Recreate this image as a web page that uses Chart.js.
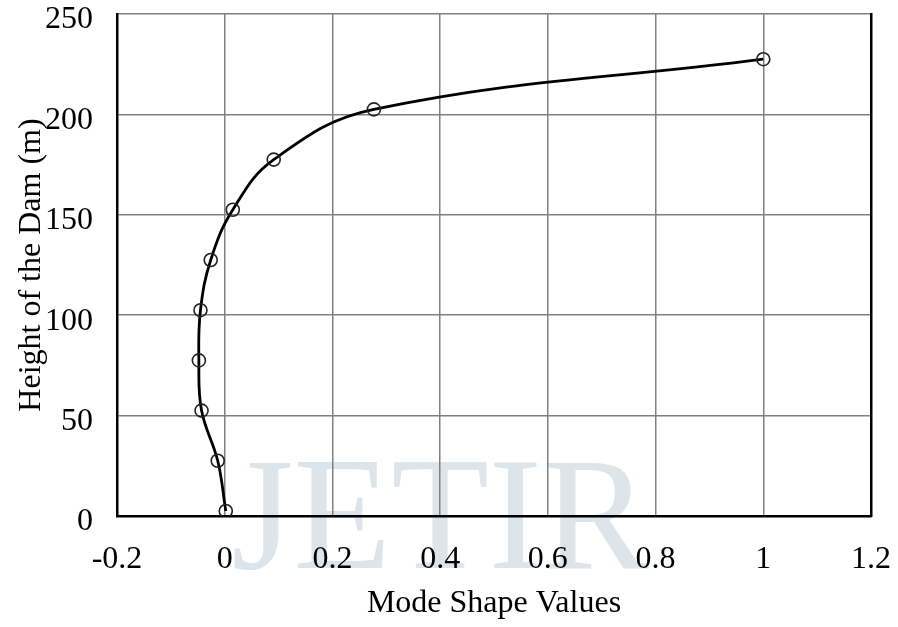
<!DOCTYPE html>
<html>
<head>
<meta charset="utf-8">
<script src="https://cdn.jsdelivr.net/npm/chart.js@4"></script>
<style>
  html, body { margin: 0; padding: 0; background: #fff; }
  #wrap { width: 898px; height: 627px; }
</style>
</head>
<body>
<div id="wrap"><canvas id="mode-chart"></canvas></div>
<script>
// values
var heights = [2.5, 27.5, 52.5, 77.5, 102.5, 127.5, 152.5, 177.5, 202.5, 227.5];
var modeShape = [0.002, -0.013, -0.043, -0.048, -0.045, -0.026, 0.015, 0.091, 0.277, 1.0];
var xTicks = [-0.2, 0, 0.2, 0.4, 0.6, 0.8, 1, 1.2];
var yTicks = [0, 50, 100, 150, 200, 250];

var points = [];
for (var i = 0; i < heights.length; i++) {
    points.push({ x: modeShape[i], y: heights[i] });
}

var serif = '"Liberation Serif", "Times New Roman", serif';

// faint watermark behind the plot
var watermark = {
    id: 'watermark',
    beforeDraw: function (chart) {
        var c = chart.ctx;
        c.save();
        c.fillStyle = '#dde4ea';
        c.font = '160px ' + serif;
        c.textAlign = 'center';
        c.textBaseline = 'alphabetic';
        c.fillText('JETIR', 440, 568);
        c.restore();
    }
};

var ctx = document.getElementById('mode-chart').getContext('2d');
var myChart = new Chart(ctx, {
    type: 'scatter',
    data: {
        datasets: [{
            label: 'Mode shape',
            data: points,
            showLine: true,
            tension: 0.4,
            borderColor: '#000',
            borderWidth: 2.8,
            pointRadius: 6.5,
            pointHoverRadius: 6.5,
            pointStyle: 'circle',
            pointBackgroundColor: 'rgba(0,0,0,0)',
            pointBorderColor: '#222',
            pointBorderWidth: 1.6
        }]
    },
    plugins: [watermark],
    options: {
        responsive: true,
        maintainAspectRatio: false,
        animation: false,
        layout: { padding: 0 },
        plugins: {
            legend: { display: false },
            tooltip: { enabled: false }
        },
        scales: {
            x: {
                type: 'linear',
                min: -0.2,
                max: 1.2,
                afterBuildTicks: function (scale) {
                    scale.ticks = xTicks.map(function (v) { return { value: v }; });
                },
                afterFit: function (scale) {
                    scale.height = 111;
                    scale.paddingLeft = 0;
                    scale.paddingRight = 27;
                },
                ticks: {
                    color: '#000',
                    font: { family: serif, size: 32 },
                    padding: 24,
                    maxRotation: 0,
                    autoSkip: false,
                    callback: function (v) { return String(Math.round(v * 10) / 10); }
                },
                grid: { color: '#808080', lineWidth: 1.5, drawTicks: false },
                border: { color: '#000', width: 2.5 },
                title: {
                    display: true,
                    text: 'Mode Shape Values',
                    color: '#000',
                    font: { family: serif, size: 32 },
                    padding: { top: 4 }
                }
            },
            y: {
                type: 'linear',
                min: 0,
                max: 250,
                afterBuildTicks: function (scale) {
                    scale.ticks = yTicks.map(function (v) { return { value: v }; });
                },
                afterFit: function (scale) {
                    scale.width = 117;
                    scale.paddingTop = 14;
                    scale.paddingBottom = 0;
                },
                ticks: {
                    color: '#000',
                    font: { family: serif, size: 32 },
                    padding: 24,
                    labelOffset: 6,
                    autoSkip: false
                },
                grid: { color: '#808080', lineWidth: 1.5, drawTicks: false },
                border: { color: '#000', width: 2.5 },
                title: {
                    display: true,
                    text: 'Height of the Dam (m)',
                    color: '#000',
                    font: { family: serif, size: 32 },
                    padding: { top: 12, bottom: 0 }
                }
            },
            yRight: {
                type: 'linear',
                position: 'right',
                min: 0,
                max: 250,
                afterFit: function (scale) {
                    scale.width = 0;
                    scale.paddingTop = 0;
                    scale.paddingBottom = 0;
                },
                ticks: { display: false },
                grid: { drawOnChartArea: false, drawTicks: false },
                border: { color: '#000', width: 2.5 }
            }
        }
    }
});
</script>
</body>
</html>
